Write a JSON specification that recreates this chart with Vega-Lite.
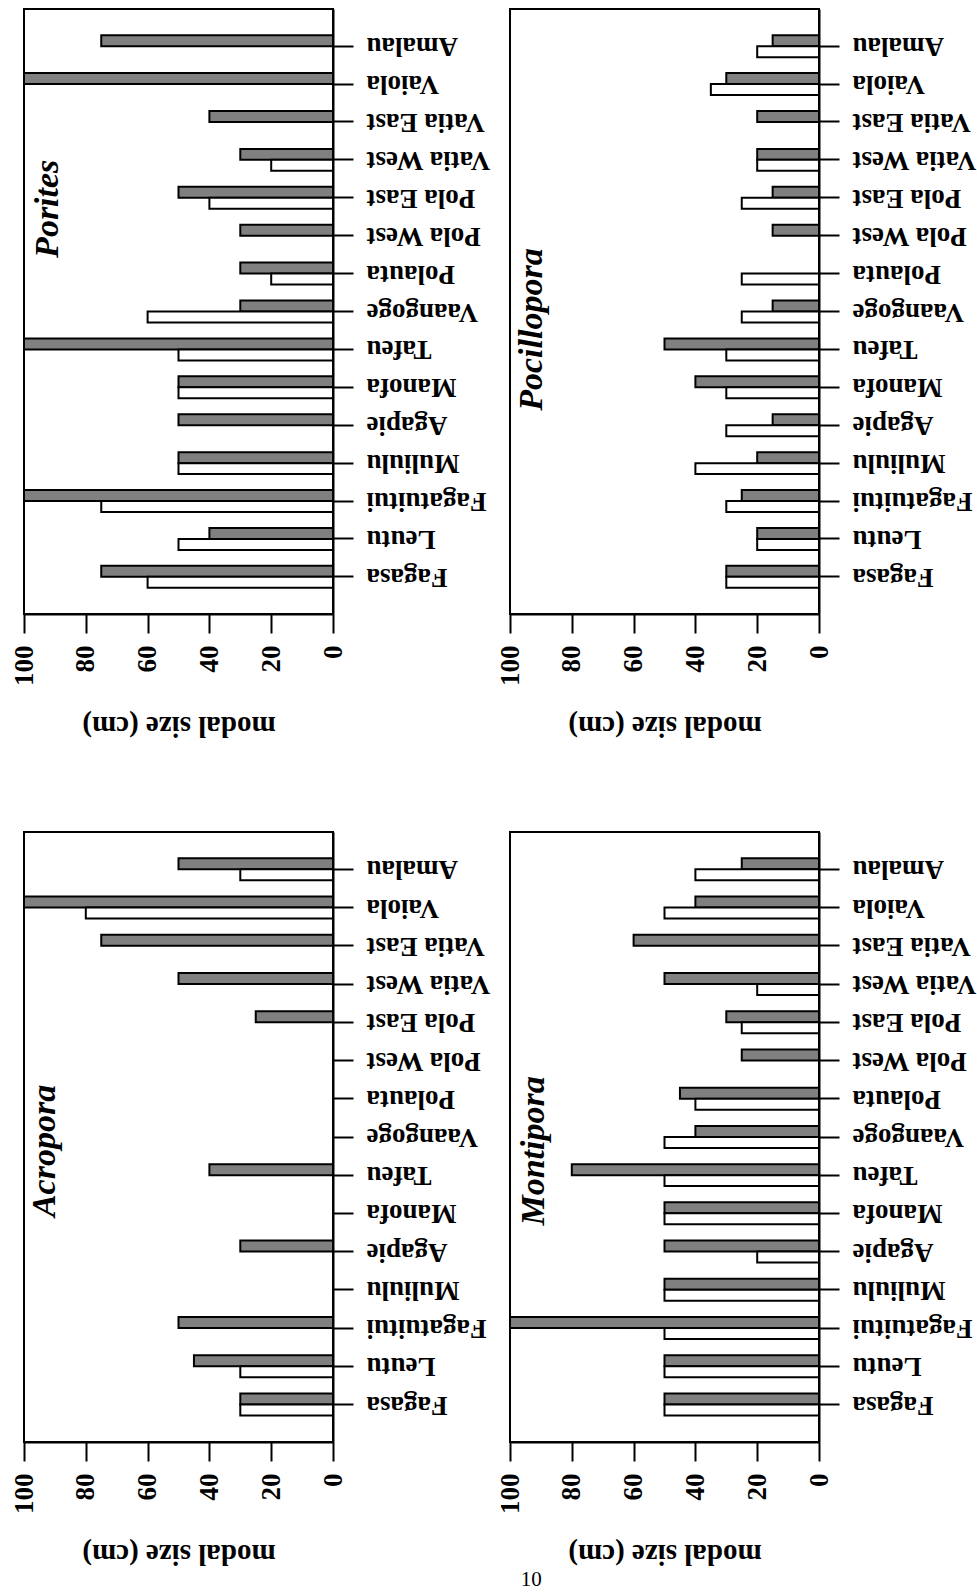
{
  "$schema": "https://vega.github.io/schema/vega-lite/v6.json",
  "padding": {"left": 9, "top": 8, "right": 0, "bottom": 2},
  "background": "white",
  "datasets": {
    "sizes": [
      {"genus": "Porites", "site": "Amalau", "series": "Survey 1", "size": 75},
      {"genus": "Porites", "site": "Vaiola", "series": "Survey 1", "size": 100},
      {"genus": "Porites", "site": "Vatia East", "series": "Survey 1", "size": 40},
      {"genus": "Porites", "site": "Vatia West", "series": "Survey 1", "size": 30},
      {"genus": "Porites", "site": "Vatia West", "series": "Survey 2", "size": 20},
      {"genus": "Porites", "site": "Pola East", "series": "Survey 1", "size": 50},
      {"genus": "Porites", "site": "Pola East", "series": "Survey 2", "size": 40},
      {"genus": "Porites", "site": "Pola West", "series": "Survey 1", "size": 30},
      {"genus": "Porites", "site": "Polauta", "series": "Survey 1", "size": 30},
      {"genus": "Porites", "site": "Polauta", "series": "Survey 2", "size": 20},
      {"genus": "Porites", "site": "Vaangoge", "series": "Survey 1", "size": 30},
      {"genus": "Porites", "site": "Vaangoge", "series": "Survey 2", "size": 60},
      {"genus": "Porites", "site": "Tafeu", "series": "Survey 1", "size": 100},
      {"genus": "Porites", "site": "Tafeu", "series": "Survey 2", "size": 50},
      {"genus": "Porites", "site": "Manofa", "series": "Survey 1", "size": 50},
      {"genus": "Porites", "site": "Manofa", "series": "Survey 2", "size": 50},
      {"genus": "Porites", "site": "Agapie", "series": "Survey 1", "size": 50},
      {"genus": "Porites", "site": "Muliulu", "series": "Survey 1", "size": 50},
      {"genus": "Porites", "site": "Muliulu", "series": "Survey 2", "size": 50},
      {"genus": "Porites", "site": "Fagatuitui", "series": "Survey 1", "size": 100},
      {"genus": "Porites", "site": "Fagatuitui", "series": "Survey 2", "size": 75},
      {"genus": "Porites", "site": "Leutu", "series": "Survey 1", "size": 40},
      {"genus": "Porites", "site": "Leutu", "series": "Survey 2", "size": 50},
      {"genus": "Porites", "site": "Fagasa", "series": "Survey 1", "size": 75},
      {"genus": "Porites", "site": "Fagasa", "series": "Survey 2", "size": 60},

      {"genus": "Pocillopora", "site": "Amalau", "series": "Survey 1", "size": 15},
      {"genus": "Pocillopora", "site": "Amalau", "series": "Survey 2", "size": 20},
      {"genus": "Pocillopora", "site": "Vaiola", "series": "Survey 1", "size": 30},
      {"genus": "Pocillopora", "site": "Vaiola", "series": "Survey 2", "size": 35},
      {"genus": "Pocillopora", "site": "Vatia East", "series": "Survey 1", "size": 20},
      {"genus": "Pocillopora", "site": "Vatia West", "series": "Survey 1", "size": 20},
      {"genus": "Pocillopora", "site": "Vatia West", "series": "Survey 2", "size": 20},
      {"genus": "Pocillopora", "site": "Pola East", "series": "Survey 1", "size": 15},
      {"genus": "Pocillopora", "site": "Pola East", "series": "Survey 2", "size": 25},
      {"genus": "Pocillopora", "site": "Pola West", "series": "Survey 1", "size": 15},
      {"genus": "Pocillopora", "site": "Polauta", "series": "Survey 2", "size": 25},
      {"genus": "Pocillopora", "site": "Vaangoge", "series": "Survey 1", "size": 15},
      {"genus": "Pocillopora", "site": "Vaangoge", "series": "Survey 2", "size": 25},
      {"genus": "Pocillopora", "site": "Tafeu", "series": "Survey 1", "size": 50},
      {"genus": "Pocillopora", "site": "Tafeu", "series": "Survey 2", "size": 30},
      {"genus": "Pocillopora", "site": "Manofa", "series": "Survey 1", "size": 40},
      {"genus": "Pocillopora", "site": "Manofa", "series": "Survey 2", "size": 30},
      {"genus": "Pocillopora", "site": "Agapie", "series": "Survey 1", "size": 15},
      {"genus": "Pocillopora", "site": "Agapie", "series": "Survey 2", "size": 30},
      {"genus": "Pocillopora", "site": "Muliulu", "series": "Survey 1", "size": 20},
      {"genus": "Pocillopora", "site": "Muliulu", "series": "Survey 2", "size": 40},
      {"genus": "Pocillopora", "site": "Fagatuitui", "series": "Survey 1", "size": 25},
      {"genus": "Pocillopora", "site": "Fagatuitui", "series": "Survey 2", "size": 30},
      {"genus": "Pocillopora", "site": "Leutu", "series": "Survey 1", "size": 20},
      {"genus": "Pocillopora", "site": "Leutu", "series": "Survey 2", "size": 20},
      {"genus": "Pocillopora", "site": "Fagasa", "series": "Survey 1", "size": 30},
      {"genus": "Pocillopora", "site": "Fagasa", "series": "Survey 2", "size": 30},

      {"genus": "Acropora", "site": "Amalau", "series": "Survey 1", "size": 50},
      {"genus": "Acropora", "site": "Amalau", "series": "Survey 2", "size": 30},
      {"genus": "Acropora", "site": "Vaiola", "series": "Survey 1", "size": 100},
      {"genus": "Acropora", "site": "Vaiola", "series": "Survey 2", "size": 80},
      {"genus": "Acropora", "site": "Vatia East", "series": "Survey 1", "size": 75},
      {"genus": "Acropora", "site": "Vatia West", "series": "Survey 1", "size": 50},
      {"genus": "Acropora", "site": "Pola East", "series": "Survey 1", "size": 25},
      {"genus": "Acropora", "site": "Tafeu", "series": "Survey 1", "size": 40},
      {"genus": "Acropora", "site": "Agapie", "series": "Survey 1", "size": 30},
      {"genus": "Acropora", "site": "Fagatuitui", "series": "Survey 1", "size": 50},
      {"genus": "Acropora", "site": "Leutu", "series": "Survey 1", "size": 45},
      {"genus": "Acropora", "site": "Leutu", "series": "Survey 2", "size": 30},
      {"genus": "Acropora", "site": "Fagasa", "series": "Survey 1", "size": 30},
      {"genus": "Acropora", "site": "Fagasa", "series": "Survey 2", "size": 30},

      {"genus": "Montipora", "site": "Amalau", "series": "Survey 1", "size": 25},
      {"genus": "Montipora", "site": "Amalau", "series": "Survey 2", "size": 40},
      {"genus": "Montipora", "site": "Vaiola", "series": "Survey 1", "size": 40},
      {"genus": "Montipora", "site": "Vaiola", "series": "Survey 2", "size": 50},
      {"genus": "Montipora", "site": "Vatia East", "series": "Survey 1", "size": 60},
      {"genus": "Montipora", "site": "Vatia West", "series": "Survey 1", "size": 50},
      {"genus": "Montipora", "site": "Vatia West", "series": "Survey 2", "size": 20},
      {"genus": "Montipora", "site": "Pola East", "series": "Survey 1", "size": 30},
      {"genus": "Montipora", "site": "Pola East", "series": "Survey 2", "size": 25},
      {"genus": "Montipora", "site": "Pola West", "series": "Survey 1", "size": 25},
      {"genus": "Montipora", "site": "Polauta", "series": "Survey 1", "size": 45},
      {"genus": "Montipora", "site": "Polauta", "series": "Survey 2", "size": 40},
      {"genus": "Montipora", "site": "Vaangoge", "series": "Survey 1", "size": 40},
      {"genus": "Montipora", "site": "Vaangoge", "series": "Survey 2", "size": 50},
      {"genus": "Montipora", "site": "Tafeu", "series": "Survey 1", "size": 80},
      {"genus": "Montipora", "site": "Tafeu", "series": "Survey 2", "size": 50},
      {"genus": "Montipora", "site": "Manofa", "series": "Survey 1", "size": 50},
      {"genus": "Montipora", "site": "Manofa", "series": "Survey 2", "size": 50},
      {"genus": "Montipora", "site": "Agapie", "series": "Survey 1", "size": 50},
      {"genus": "Montipora", "site": "Agapie", "series": "Survey 2", "size": 20},
      {"genus": "Montipora", "site": "Muliulu", "series": "Survey 1", "size": 50},
      {"genus": "Montipora", "site": "Muliulu", "series": "Survey 2", "size": 50},
      {"genus": "Montipora", "site": "Fagatuitui", "series": "Survey 1", "size": 100},
      {"genus": "Montipora", "site": "Fagatuitui", "series": "Survey 2", "size": 50},
      {"genus": "Montipora", "site": "Leutu", "series": "Survey 1", "size": 50},
      {"genus": "Montipora", "site": "Leutu", "series": "Survey 2", "size": 50},
      {"genus": "Montipora", "site": "Fagasa", "series": "Survey 1", "size": 50},
      {"genus": "Montipora", "site": "Fagasa", "series": "Survey 2", "size": 50}
    ]
  },
  "title": {"text": "10", "orient": "bottom", "anchor": "middle", "font": "Liberation Serif", "fontSize": 21, "fontWeight": "normal", "color": "black", "offset": 0, "dx": 38},
  "columns": 2,
  "spacing": {"row": 218, "column": 177},
  "bounds": "flush",
  "concat": [
    {
      "width": 309, "height": 605,
      "layer": [
        {
          "data": {"name": "sizes"},
          "transform": [{"filter": "datum.genus === 'Porites'"}],
          "mark": {"type": "bar", "stroke": "black", "strokeWidth": 2},
          "encoding": {
            "x": {"field": "size", "type": "quantitative", "scale": {"domain": [0, 100], "reverse": true, "nice": false}, "axis": {"title": "modal size (cm)", "values": [0, 20, 40, 60, 80, 100]}},
            "y": {"field": "site", "type": "nominal", "scale": {"domain": ["Amalau","Vaiola","Vatia East","Vatia West","Pola East","Pola West","Polauta","Vaangoge","Tafeu","Manofa","Agapie","Muliulu","Fagatuitui","Leutu","Fagasa"], "paddingInner": 0.42, "paddingOuter": 0.69}, "axis": {"orient": "right", "title": null, "labelAngle": 180, "labelAlign": "right", "labelBaseline": "middle", "tickSize": 20, "labelPadding": 13}},
            "yOffset": {"field": "series", "type": "nominal", "scale": {"domain": ["Survey 1", "Survey 2"]}},
            "fill": {"field": "series", "type": "nominal", "scale": {"domain": ["Survey 1", "Survey 2"], "range": ["#808080", "#ffffff"]}, "legend": null}
          }
        },
        {
          "data": {"values": [{"genus": "Porites"}]},
          "mark": {"type": "text", "angle": 270, "font": "Liberation Serif", "fontSize": 34, "fontStyle": "italic", "fontWeight": "bold", "baseline": "alphabetic", "align": "center", "color": "black"},
          "encoding": {
            "text": {"field": "genus"},
            "x": {"datum": 89, "type": "quantitative", "axis": {"title": "modal size (cm)", "values": [0, 20, 40, 60, 80, 100]}},
            "y": {"datum": "Pola East", "type": "nominal", "bandPosition": 1.0, "axis": {"orient": "right", "title": null, "labelAngle": 180, "labelAlign": "right", "labelBaseline": "middle", "tickSize": 20, "labelPadding": 13}}
          }
        }
      ]
    },
    {
      "width": 309, "height": 605,
      "layer": [
        {
          "data": {"name": "sizes"},
          "transform": [{"filter": "datum.genus === 'Pocillopora'"}],
          "mark": {"type": "bar", "stroke": "black", "strokeWidth": 2},
          "encoding": {
            "x": {"field": "size", "type": "quantitative", "scale": {"domain": [0, 100], "reverse": true, "nice": false}, "axis": {"title": "modal size (cm)", "values": [0, 20, 40, 60, 80, 100]}},
            "y": {"field": "site", "type": "nominal", "scale": {"domain": ["Amalau","Vaiola","Vatia East","Vatia West","Pola East","Pola West","Polauta","Vaangoge","Tafeu","Manofa","Agapie","Muliulu","Fagatuitui","Leutu","Fagasa"], "paddingInner": 0.42, "paddingOuter": 0.69}, "axis": {"orient": "right", "title": null, "labelAngle": 180, "labelAlign": "right", "labelBaseline": "middle", "tickSize": 20, "labelPadding": 13}},
            "yOffset": {"field": "series", "type": "nominal", "scale": {"domain": ["Survey 1", "Survey 2"]}},
            "fill": {"field": "series", "type": "nominal", "scale": {"domain": ["Survey 1", "Survey 2"], "range": ["#808080", "#ffffff"]}, "legend": null}
          }
        },
        {
          "data": {"values": [{"genus": "Pocillopora"}]},
          "mark": {"type": "text", "angle": 270, "font": "Liberation Serif", "fontSize": 34, "fontStyle": "italic", "fontWeight": "bold", "baseline": "alphabetic", "align": "center", "color": "black"},
          "encoding": {
            "text": {"field": "genus"},
            "x": {"datum": 89.5, "type": "quantitative", "axis": {"title": "modal size (cm)", "values": [0, 20, 40, 60, 80, 100]}},
            "y": {"datum": "Vaangoge", "type": "nominal", "bandPosition": 1.32, "axis": {"orient": "right", "title": null, "labelAngle": 180, "labelAlign": "right", "labelBaseline": "middle", "tickSize": 20, "labelPadding": 13}}
          }
        }
      ]
    },
    {
      "width": 309, "height": 610,
      "layer": [
        {
          "data": {"name": "sizes"},
          "transform": [{"filter": "datum.genus === 'Acropora'"}],
          "mark": {"type": "bar", "stroke": "black", "strokeWidth": 2},
          "encoding": {
            "x": {"field": "size", "type": "quantitative", "scale": {"domain": [0, 100], "reverse": true, "nice": false}, "axis": {"title": "modal size (cm)", "values": [0, 20, 40, 60, 80, 100]}},
            "y": {"field": "site", "type": "nominal", "scale": {"domain": ["Amalau","Vaiola","Vatia East","Vatia West","Pola East","Pola West","Polauta","Vaangoge","Tafeu","Manofa","Agapie","Muliulu","Fagatuitui","Leutu","Fagasa"], "paddingInner": 0.42, "paddingOuter": 0.69}, "axis": {"orient": "right", "title": null, "labelAngle": 180, "labelAlign": "right", "labelBaseline": "middle", "tickSize": 20, "labelPadding": 13}},
            "yOffset": {"field": "series", "type": "nominal", "scale": {"domain": ["Survey 1", "Survey 2"]}},
            "fill": {"field": "series", "type": "nominal", "scale": {"domain": ["Survey 1", "Survey 2"], "range": ["#808080", "#ffffff"]}, "legend": null}
          }
        },
        {
          "data": {"values": [{"genus": "Acropora"}]},
          "mark": {"type": "text", "angle": 270, "font": "Liberation Serif", "fontSize": 34, "fontStyle": "italic", "fontWeight": "bold", "baseline": "alphabetic", "align": "center", "color": "black"},
          "encoding": {
            "text": {"field": "genus"},
            "x": {"datum": 90, "type": "quantitative", "axis": {"title": "modal size (cm)", "values": [0, 20, 40, 60, 80, 100]}},
            "y": {"datum": "Vaangoge", "type": "nominal", "bandPosition": 1.13, "axis": {"orient": "right", "title": null, "labelAngle": 180, "labelAlign": "right", "labelBaseline": "middle", "tickSize": 20, "labelPadding": 13}}
          }
        }
      ]
    },
    {
      "width": 309, "height": 610,
      "layer": [
        {
          "data": {"name": "sizes"},
          "transform": [{"filter": "datum.genus === 'Montipora'"}],
          "mark": {"type": "bar", "stroke": "black", "strokeWidth": 2},
          "encoding": {
            "x": {"field": "size", "type": "quantitative", "scale": {"domain": [0, 100], "reverse": true, "nice": false}, "axis": {"title": "modal size (cm)", "values": [0, 20, 40, 60, 80, 100]}},
            "y": {"field": "site", "type": "nominal", "scale": {"domain": ["Amalau","Vaiola","Vatia East","Vatia West","Pola East","Pola West","Polauta","Vaangoge","Tafeu","Manofa","Agapie","Muliulu","Fagatuitui","Leutu","Fagasa"], "paddingInner": 0.42, "paddingOuter": 0.69}, "axis": {"orient": "right", "title": null, "labelAngle": 180, "labelAlign": "right", "labelBaseline": "middle", "tickSize": 20, "labelPadding": 13}},
            "yOffset": {"field": "series", "type": "nominal", "scale": {"domain": ["Survey 1", "Survey 2"]}},
            "fill": {"field": "series", "type": "nominal", "scale": {"domain": ["Survey 1", "Survey 2"], "range": ["#808080", "#ffffff"]}, "legend": null}
          }
        },
        {
          "data": {"values": [{"genus": "Montipora"}]},
          "mark": {"type": "text", "angle": 270, "font": "Liberation Serif", "fontSize": 34, "fontStyle": "italic", "fontWeight": "bold", "baseline": "alphabetic", "align": "center", "color": "black"},
          "encoding": {
            "text": {"field": "genus"},
            "x": {"datum": 89, "type": "quantitative", "axis": {"title": "modal size (cm)", "values": [0, 20, 40, 60, 80, 100]}},
            "y": {"datum": "Vaangoge", "type": "nominal", "bandPosition": 1.13, "axis": {"orient": "right", "title": null, "labelAngle": 180, "labelAlign": "right", "labelBaseline": "middle", "tickSize": 20, "labelPadding": 13}}
          }
        }
      ]
    }
  ],
  "config": {
    "view": {"stroke": "black", "strokeWidth": 2},
    "axis": {
      "grid": false,
      "domainColor": "black", "domainWidth": 2,
      "tickColor": "black", "tickWidth": 2,
      "labelFont": "Liberation Serif", "labelFontSize": 27, "labelFontWeight": "bold", "labelColor": "black",
      "labelOverlap": false, "labelFlush": false,
      "titleFont": "Liberation Serif", "titleFontSize": 29, "titleFontWeight": "bold", "titleColor": "black"
    },
    "axisX": {"labelAngle": 270, "labelAlign": "right", "labelBaseline": "middle", "tickSize": 19, "labelPadding": 12, "titleAngle": 180, "titleBaseline": "bottom", "titlePadding": 25}
  }
}
